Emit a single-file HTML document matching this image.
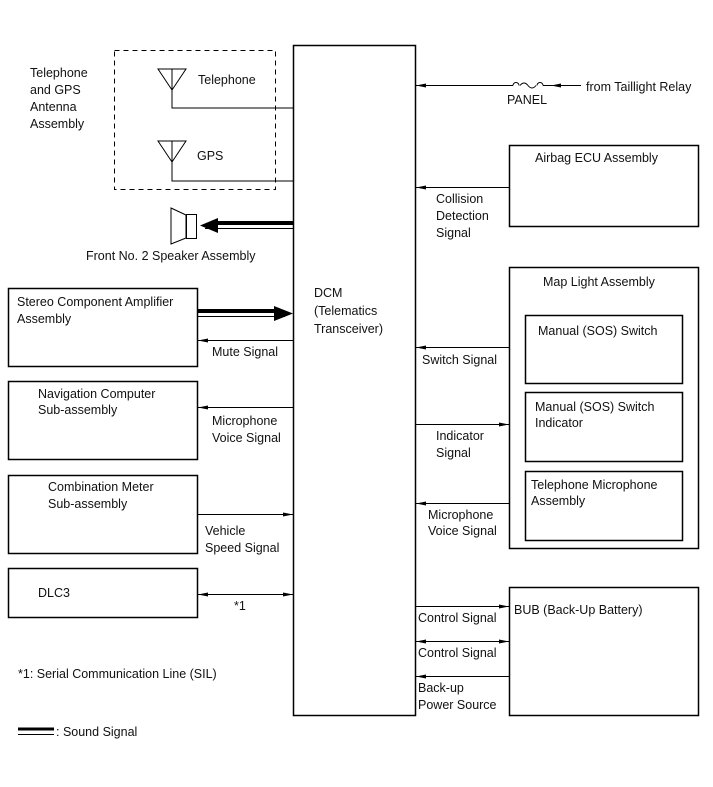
<!DOCTYPE html>
<html><head><meta charset="utf-8"><style>
html,body{margin:0;padding:0;background:#fff;}
svg text{font-family:"Liberation Sans",sans-serif;font-size:12.5px;fill:#111;}
</style></head><body>
<svg width="713" height="782" viewBox="0 0 713 782" xmlns="http://www.w3.org/2000/svg">
<defs>
<marker id="a" markerWidth="10" markerHeight="6" refX="10" refY="3" orient="auto" markerUnits="userSpaceOnUse"><path d="M0,1 L10,3 L0,5 Z" fill="#000"/></marker>
<marker id="as" markerWidth="10" markerHeight="6" refX="0" refY="3" orient="auto" markerUnits="userSpaceOnUse"><path d="M10,1 L0,3 L10,5 Z" fill="#000"/></marker>
</defs>
<g fill="none" stroke="#000">
<!-- DCM -->
<rect x="293.5" y="45.5" width="122" height="670" stroke-width="1.5"/>
<!-- antenna box -->
<rect x="114.5" y="50.5" width="161" height="139" stroke-dasharray="5,4"/>
<path d="M158,69 L186,69 L172,90 Z M172,69 V108 H293" stroke-width="1"/>
<path d="M158,141 L186,141 L172,162 Z M172,141 V181 H293" stroke-width="1"/>
<!-- speaker -->
<path d="M171,208 L186,215 L186,238 L171,244 Z" stroke-width="1"/>
<rect x="186.5" y="214.5" width="10" height="24"/>
<!-- left boxes -->
<rect x="8.5" y="288.5" width="189" height="78" stroke-width="1.5"/>
<rect x="8.5" y="381.5" width="189" height="78" stroke-width="1.5"/>
<rect x="8.5" y="475.5" width="189" height="78" stroke-width="1.5"/>
<rect x="8.5" y="568.5" width="189" height="49" stroke-width="1.5"/>
<!-- right boxes -->
<rect x="509.5" y="145.5" width="189" height="81" stroke-width="1.5"/>
<rect x="509.5" y="267.5" width="189" height="281" stroke-width="1.5"/>
<rect x="525.5" y="315.5" width="157" height="68" stroke-width="1.5"/>
<rect x="525.5" y="392.5" width="157" height="69" stroke-width="1.5"/>
<rect x="525.5" y="471.5" width="157" height="69" stroke-width="1.5"/>
<rect x="509.5" y="587.5" width="189" height="128" stroke-width="1.5"/>
<!-- thin connectors -->
<g stroke-width="1">
<line x1="513" y1="85.5" x2="416" y2="85.5" marker-end="url(#a)"/>
<path d="M513,85.5 a3,3 0 1,1 6,0 M520,85.5 q4,-5 8,0 q4,5 8,0 M537,85.5 a3,3 0 1,1 6,0"/>
<line x1="543" y1="85.5" x2="551" y2="85.5"/>
<line x1="581" y1="85.5" x2="551" y2="85.5" marker-end="url(#a)"/>
<line x1="509" y1="187.5" x2="416" y2="187.5" marker-end="url(#a)"/>
<line x1="509" y1="347.5" x2="416" y2="347.5" marker-end="url(#a)"/>
<line x1="416" y1="424.5" x2="509" y2="424.5" marker-end="url(#a)"/>
<line x1="509" y1="503.5" x2="416" y2="503.5" marker-end="url(#a)"/>
<line x1="416" y1="606.5" x2="509" y2="606.5" marker-end="url(#a)"/>
<line x1="416" y1="641.5" x2="509" y2="641.5" marker-end="url(#a)" marker-start="url(#as)"/>
<line x1="509" y1="676.5" x2="416" y2="676.5" marker-end="url(#a)"/>
<line x1="293" y1="340.5" x2="198" y2="340.5" marker-end="url(#a)"/>
<line x1="293" y1="407.5" x2="198" y2="407.5" marker-end="url(#a)"/>
<line x1="198" y1="514.5" x2="293" y2="514.5" marker-end="url(#a)"/>
<line x1="198" y1="594.5" x2="293" y2="594.5" marker-end="url(#a)" marker-start="url(#as)"/>
</g>
<!-- sound signals -->
<line x1="293" y1="223" x2="215" y2="223" stroke-width="4"/>
<line x1="293" y1="228.5" x2="205" y2="228.5" stroke-width="1"/>
<line x1="198" y1="311" x2="275" y2="311" stroke-width="4"/>
<line x1="198" y1="316.5" x2="285" y2="316.5" stroke-width="1"/>
<line x1="18" y1="729" x2="54" y2="729" stroke-width="3"/>
<line x1="18" y1="734.5" x2="54" y2="734.5" stroke-width="1"/>
</g>
<path d="M200,225.5 L218,218 L218,233 Z" fill="#000"/>
<path d="M293,313.5 L274,306 L274,321 Z" fill="#000"/>
<!-- text -->
<text x="30" y="77">Telephone</text><text x="30" y="94">and GPS</text><text x="30" y="111">Antenna</text><text x="30" y="128">Assembly</text>
<text x="198" y="84">Telephone</text>
<text x="197" y="160">GPS</text>
<text x="86" y="260">Front No. 2 Speaker Assembly</text>
<text x="17" y="306">Stereo Component Amplifier</text><text x="17" y="323">Assembly</text>
<text x="212" y="356">Mute Signal</text>
<text x="38" y="398">Navigation Computer</text><text x="38" y="414">Sub-assembly</text>
<text x="212" y="425">Microphone</text><text x="212" y="442">Voice Signal</text>
<text x="48" y="491">Combination Meter</text><text x="48" y="508">Sub-assembly</text>
<text x="205" y="535">Vehicle</text><text x="205" y="552">Speed Signal</text>
<text x="38" y="597">DLC3</text>
<text x="234" y="610">*1</text>
<text x="18" y="678">*1: Serial Communication Line (SIL)</text>
<text x="56" y="736">: Sound Signal</text>
<text x="314" y="297">DCM</text><text x="314" y="315">(Telematics</text><text x="314" y="333">Transceiver)</text>
<text x="586" y="91">from Taillight Relay</text>
<text x="507" y="104">PANEL</text>
<text x="535" y="162">Airbag ECU Assembly</text>
<text x="436" y="203">Collision</text><text x="436" y="220">Detection</text><text x="436" y="237">Signal</text>
<text x="543" y="286">Map Light Assembly</text>
<text x="538" y="335">Manual (SOS) Switch</text>
<text x="535" y="411">Manual (SOS) Switch</text><text x="535" y="427">Indicator</text>
<text x="531" y="489">Telephone Microphone</text><text x="531" y="505">Assembly</text>
<text x="422" y="364">Switch Signal</text>
<text x="436" y="440">Indicator</text><text x="436" y="457">Signal</text>
<text x="428" y="519">Microphone</text><text x="428" y="535">Voice Signal</text>
<text x="514" y="614">BUB (Back-Up Battery)</text>
<text x="418" y="622">Control Signal</text>
<text x="418" y="657">Control Signal</text>
<text x="418" y="692">Back-up</text><text x="418" y="709">Power Source</text>
</svg>
</body></html>
